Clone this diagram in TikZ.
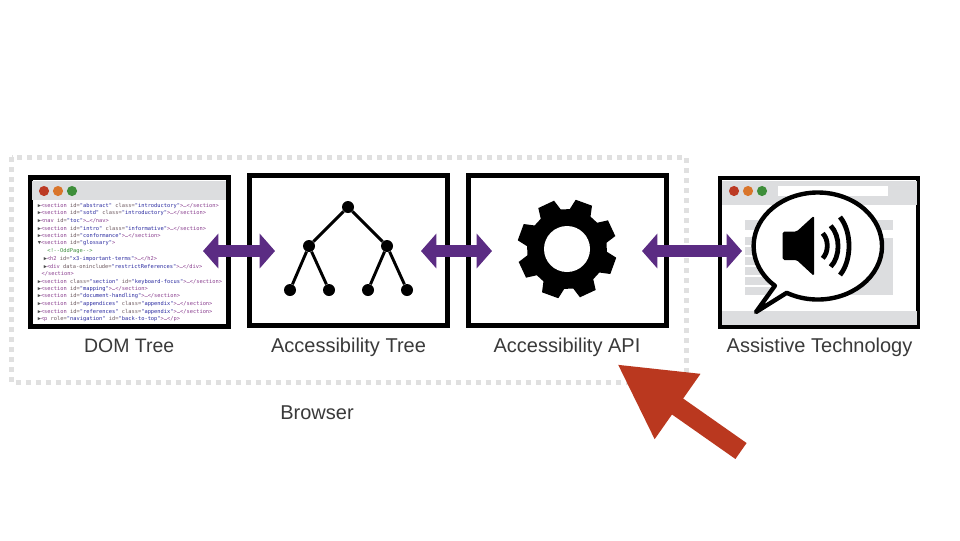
\documentclass[tikz,border=0pt]{standalone}
\usepackage{fontspec}
\usetikzlibrary{arrows.meta}
\setmainfont{Liberation Sans}
\newfontfamily\codefont{DejaVu Sans Mono}
\definecolor{purp}{HTML}{5B2C83}
\definecolor{redarrow}{HTML}{BA381F}
\definecolor{barg}{HTML}{DCDDDF}
\definecolor{dotg}{HTML}{E0E0E0}
\definecolor{lab}{HTML}{3A3A3A}
\definecolor{wred}{HTML}{BC3A24}
\definecolor{worange}{HTML}{D9752B}
\definecolor{wgreen}{HTML}{3E8E3A}
\definecolor{ctagc}{HTML}{8A3F8F}
\definecolor{cattrc}{HTML}{6E5A60}
\definecolor{cvalc}{HTML}{2A2AA0}
\definecolor{ccomc}{HTML}{3F8F3F}
\newcommand{\ctag}[1]{\textcolor{ctagc}{#1}}
\newcommand{\cval}[1]{\textcolor{cvalc}{"#1"}}
\newcommand{\At}[2]{\textcolor{cattrc}{\ #1=}\cval{#2}}
\newcommand{\tri}{\textcolor{black!70}{▶}}
\newcommand{\trd}{\textcolor{black!70}{▼}}
\tikzset{
  x=0.75pt,y=-0.75pt,
  panel/.style={draw=black,line width=3.75pt,fill=white,minimum width=148.5pt,minimum height=112pt,inner sep=0pt},
  lbl/.style={text=lab,anchor=base,font=\fontsize{15}{18}\selectfont,inner sep=0pt},
  codeln/.style={anchor=west,inner sep=0pt,font=\codefont\fontsize{4.03}{5}\selectfont},
  biarrow/.style={draw=purp,line width=9.2pt,{Triangle[length=11.5pt,width=25.5pt]}-{Triangle[length=11.5pt,width=25.5pt]}},
  callout/.style={draw=redarrow,line width=14.6pt,-{Triangle[length=55.5pt,width=55.5pt]}},
  dotbox/.style={draw=dotg,line width=3.75pt,dash pattern=on 3.75pt off 3.75pt},
  wdot/.style={circle,minimum size=7.6pt,inner sep=0pt},
  tnode/.style={circle,fill=black,minimum size=9pt,inner sep=0pt},
  tedge/.style={draw=black,line width=2.2pt},
  wave/.style={draw=black,line width=3.6pt},
}
\begin{document}
\begin{tikzpicture}
\useasboundingbox[fill=white] (0,0) rectangle (960,540);
% browser outline
\draw[dotbox] (11.5,157) rectangle (686,382.7);
% DOM panel
\node[panel,minimum height=111.5pt] (dom) at (129,252) {};
\fill[barg] (32,180.5) rectangle (226,200);
\node[wdot,fill=wred] (d1) at (44,191) {};
\node[wdot,fill=worange] (d2) at (58,191) {};
\node[wdot,fill=wgreen] (d3) at (72,191) {};
\node[codeln] (l1) at (37.5,205.6) {\tri\ctag{<section}\At{id}{abstract}\At{class}{introductory}\ctag{>…</section>}};
\node[codeln] (l2) at (37.5,213.2) {\tri\ctag{<section}\At{id}{sotd}\At{class}{introductory}\ctag{>…</section>}};
\node[codeln] (l3) at (37.5,220.7) {\tri\ctag{<nav}\At{id}{toc}\ctag{>…</nav>}};
\node[codeln] (l4) at (37.5,228.3) {\tri\ctag{<section}\At{id}{intro}\At{class}{informative}\ctag{>…</section>}};
\node[codeln] (l5) at (37.5,235.8) {\tri\ctag{<section}\At{id}{conformance}\ctag{>…</section>}};
\node[codeln] (l6) at (37.5,243.4) {\trd\ctag{<section}\At{id}{glossary}\ctag{>}};
\node[codeln] (l7) at (47,251) {\textcolor{ccomc}{<!--OddPage-->}};
\node[codeln] (l8) at (43.5,258.6) {\tri\ctag{<h2}\At{id}{x3-important-terms}\ctag{>…</h2>}};
\node[codeln] (l9) at (43.5,266.2) {\tri\ctag{<div}\At{data-oninclude}{restrictReferences}\ctag{>…</div>}};
\node[codeln] (l10) at (41.3,273.8) {\ctag{</section>}};
\node[codeln] (l11) at (37.5,281.5) {\tri\ctag{<section}\At{class}{section}\At{id}{keyboard-focus}\ctag{>…</section>}};
\node[codeln] (l12) at (37.5,289) {\tri\ctag{<section}\At{id}{mapping}\ctag{>…</section>}};
\node[codeln] (l13) at (37.5,296.5) {\tri\ctag{<section}\At{id}{document-handling}\ctag{>…</section>}};
\node[codeln] (l14) at (37.5,304) {\tri\ctag{<section}\At{id}{appendices}\At{class}{appendix}\ctag{>…</section>}};
\node[codeln] (l15) at (37.5,311.5) {\tri\ctag{<section}\At{id}{references}\At{class}{appendix}\ctag{>…</section>}};
\node[codeln] (l16) at (37.5,319) {\tri\ctag{<p}\At{role}{navigation}\At{id}{back-to-top}\ctag{>…</p>}};
% tree panel
\node[panel] (tree) at (348.4,250.5) {};
\node[tnode] (r) at (348,207) {};
\node[tnode] (m1) at (309,246) {};
\node[tnode] (m2) at (387,246) {};
\node[tnode] (t1) at (290,290) {};
\node[tnode] (t2) at (329,290) {};
\node[tnode] (t3) at (368,290) {};
\node[tnode] (t4) at (407,290) {};
\draw[tedge] (r)--(m1) (r)--(m2) (m1)--(t1) (m1)--(t2) (m2)--(t3) (m2)--(t4);
% api panel
\node[panel] (api) at (567.5,250.5) {};
\fill[black] ([shift={(567,249)}]-41:40) \foreach \a in {-25,20,65,110,155,200,245,290} {
  -- ([shift={(567,249)}]\a-16:40) -- ([shift={(567,249)}]\a-10:50) -- ([shift={(567,249)}]\a+10:50) -- ([shift={(567,249)}]\a+16:40)
} -- cycle;
\fill[white] (567,249) circle[radius=23];
% AT panel
\node[panel,minimum height=111.5pt,line width=3.4pt] (at) at (819.2,252.2) {};
\fill[barg] (722,180.5) rectangle (917,205);
\fill[white] (778,186) rectangle (888,196);
\fill[barg] (722,311) rectangle (917,325);
\node[wdot,fill=wred] (a1) at (734,191) {};
\node[wdot,fill=worange] (a2) at (748,191) {};
\node[wdot,fill=wgreen] (a3) at (762,191) {};
\fill[barg] (745,220) rectangle (893,230);
\fill[barg] (745,237) rectangle (790,245);
\fill[barg] (745,247) rectangle (790,255);
\fill[barg] (745,257) rectangle (790,265);
\fill[barg] (745,267) rectangle (790,275);
\fill[barg] (745,277) rectangle (790,285);
\fill[barg] (745,287) rectangle (790,295);
\fill[barg] (815,238) rectangle (893,295);
% speech bubble
\draw[line width=3.3pt,fill=white,line join=round] (786.7,292.8) arc[start angle=119,end angle=-228,x radius=64.2,y radius=53.5] -- (756,312) -- cycle;
\fill[black,rounded corners=1.2pt] (782.7,231.5) -- (796.7,231.5) -- (814,215.7) -- (814,276) -- (796.7,260) -- (782.7,260) -- cycle;
\draw[wave] (822.7,233.3) .. controls (828.8,239.5) and (828.8,252) .. (822.7,258.3);
\draw[wave] (830.7,225.7) .. controls (840.5,236) and (840.5,256.5) .. (830.7,266.7);
\draw[wave] (840,217) .. controls (852,231.5) and (852,260.5) .. (840,275);
% connectors
\coordinate (c1a) at (203,251);
\coordinate (c1b) at (275,251);
\coordinate (c2a) at (421,251);
\coordinate (c2b) at (492,251);
\coordinate (c3a) at (642,251);
\coordinate (c3b) at (742,251);
\draw[biarrow] (c1a) -- (c1b);
\draw[biarrow] (c2a) -- (c2b);
\draw[biarrow] (c3a) -- (c3b);
\coordinate (ra) at (741,451);
\coordinate (rb) at (617,364);
\draw[callout] (ra) -- (rb);
% labels
\node[lbl,font=\fontsize{14.6}{18}\selectfont] (ldom) at (129.2,352.5) {DOM Tree};
\node[lbl] (ltree) at (348.5,352.5) {Accessibility Tree};
\node[lbl] (lapi) at (567,352.5) {Accessibility API};
\node[lbl] (lat) at (819.5,352.5) {Assistive Technology};
\node[lbl] (lb) at (317,419.2) {Browser};
\end{tikzpicture}
\end{document}
